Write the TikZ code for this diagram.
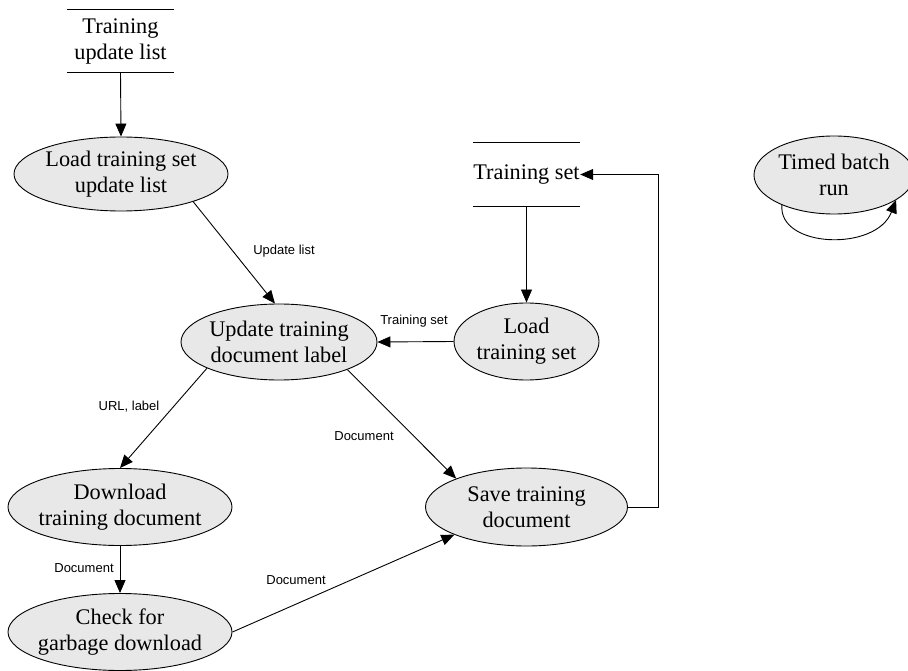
\documentclass[tikz,border=0pt]{standalone}
\usepackage{fontspec}
\setmainfont{Liberation Serif}
\setsansfont{Liberation Sans}
\usetikzlibrary{arrows.meta,shapes.geometric}
\definecolor{procfill}{RGB}{232,232,232}
\begin{document}
\begin{tikzpicture}[x=1pt,y=-1pt,
  every node/.style={font=\fontsize{22.3}{26}\selectfont},
  process/.style={ellipse,draw=black,fill=procfill,line width=0.9pt,
    inner xsep=-20pt,inner ysep=0pt,align=center},
  store/.style={inner sep=0pt,align=center,minimum width=107pt},
  flow/.style={-{Triangle[length=13pt,width=11pt]},line width=0.9pt},
  storeline/.style={line width=0.9pt},
  flowlabel/.style={font=\sffamily\fontsize{13}{15}\selectfont,inner sep=0pt}]
\useasboundingbox (0,0) rectangle (908,671);

% data stores
\node[store,minimum height=62pt] (tul) at (120.5,41) {Training\\update list};
\draw[storeline] (tul.north west) -- (tul.north east);
\draw[storeline] (tul.south west) -- (tul.south east);

\node[store,minimum height=63pt] (ts) at (526.5,174.5) {Training set};
\draw[storeline] (ts.north west) -- (ts.north east);
\draw[storeline] (ts.south west) -- (ts.south east);

% processes
\node[process,minimum width=214pt,minimum height=74pt] (lul) at (121,174) {Load training set\\update list};
\node[process,minimum width=196pt,minimum height=76pt] (upd) at (279,342) {Update training\\document label};
\node[process,minimum width=145pt,minimum height=77pt] (lts) at (526.5,341.5) {Load\\training set};
\node[process,minimum width=224pt,minimum height=77pt] (dl) at (120,507) {Download\\training document};
\node[process,minimum width=202pt,minimum height=78pt] (sv) at (526.5,507) {Save training\\document};
\node[process,minimum width=224pt,minimum height=77pt] (ck) at (120,632) {Check for\\garbage download};
\node[process,minimum width=160pt,minimum height=78pt] (tb) at (834,175) {Timed batch\\run};

% data flows
\draw[flow] (tul.south) -- (lul.north);
\draw[flow] (lul.-21) -- (upd.96);
\draw[flow] (ts.south) -- (lts.north);
\draw[flow] (lts.west) -- (upd.east);
\draw[flow] (upd.-160) -- (dl.north);
\draw[flow] (upd.-22) -- (sv.158);
\draw[flow] (dl.south) -- (ck.north);
\draw[flow] (ck.east) -- (sv.-159);
\coordinate (ret) at (658,174.5);
\draw[flow] (sv.east) -| (ret) -- (ts.east);
\draw[flow] (tb.-150) .. controls (778,248) and (876,252) .. (tb.-22);

% flow labels
\node[flowlabel] (l1) at (284,251) {Update list};
\node[flowlabel] (l2) at (414,321) {Training set};
\node[flowlabel] (l3) at (129,407) {URL, label};
\node[flowlabel] (l4) at (364,436) {Document};
\node[flowlabel] (l5) at (84,568) {Document};
\node[flowlabel] (l6) at (296,580) {Document};
\end{tikzpicture}
\end{document}
